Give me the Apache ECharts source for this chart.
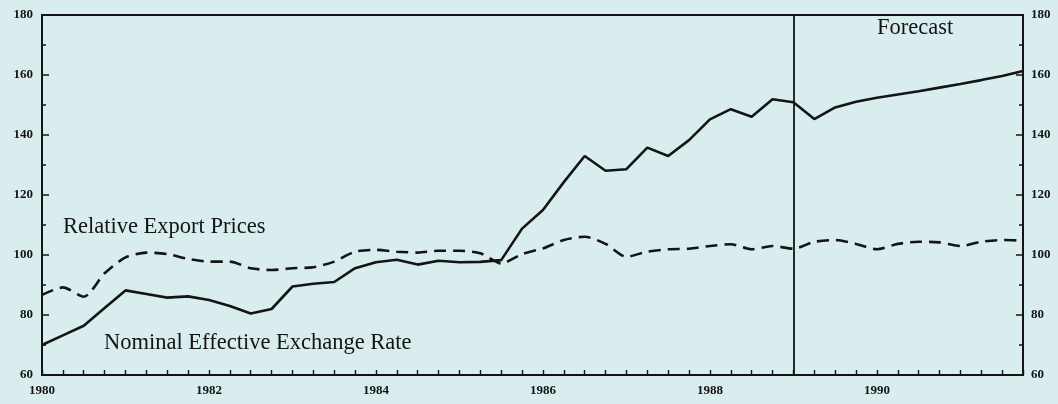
<!DOCTYPE html>
<html>
<head>
<meta charset="utf-8">
<script src="https://cdn.jsdelivr.net/npm/echarts@6/dist/echarts.min.js"></script>
<style>
html,body{margin:0;padding:0;background:#d9ecee;}
#chart{width:1058px;height:404px;}
</style>
</head>
<body>
<div id="chart"></div>
<script>
// Quarterly observations, 1980Q1 .. 1991Q4 (48 quarters)
var startYear = 1980;
var quarters = [];
for (var i = 0; i < 48; i++) { quarters.push(startYear + i * 0.25); }

var nominalEffectiveExchangeRate = [
  70.0, 73.2, 76.4, 82.3, 88.2, 87.0, 85.8, 86.2,
  85.0, 83.0, 80.5, 82.0, 89.5, 90.4, 91.0, 95.6,
  97.6, 98.4, 96.8, 98.1, 97.6, 97.7, 98.3, 108.8,
  115.0, 124.3, 133.0, 128.1, 128.6, 135.8, 133.0, 138.3,
  145.2, 148.6, 146.1, 151.9, 150.9, 145.3, 149.2, 151.1,
  152.4, 153.5, 154.6, 155.8, 157.0, 158.3, 159.7, 161.3
];
var relativeExportPrices = [
  86.7, 89.2, 86.1, 93.9, 99.2, 100.8, 100.3, 98.7,
  97.8, 97.8, 95.6, 95.0, 95.6, 95.9, 97.8, 101.1,
  101.7, 101.1, 100.8, 101.4, 101.4, 100.6, 97.2, 100.3,
  102.2, 105.0, 106.1, 103.7, 99.4, 101.1, 101.9, 102.1,
  103.0, 103.6, 101.9, 103.0, 102.1, 104.4, 105.0, 103.7,
  101.9, 103.7, 104.4, 104.2, 103.0, 104.4, 105.0, 104.8
];
var forecastStart = 1989;
var seriesNames = ['Relative Export Prices', 'Nominal Effective Exchange Rate'];
var forecastLabel = 'Forecast';

function pairs(vals) { return vals.map(function (v, i) { return [quarters[i], v]; }); }
function isEvenYear(v) { return Math.abs(v / 2 - Math.round(v / 2)) < 1e-6; }

var ink = '#141414';
var labelFont = { fontFamily: 'Liberation Serif', fontSize: 13, fontWeight: 'bold', color: ink };

var chart = echarts.init(document.getElementById('chart'));
chart.setOption({
  backgroundColor: '#d9ecee',
  animation: false,
  grid: { left: 42, right: 35, top: 15, bottom: 29, show: true, borderColor: ink, borderWidth: 2, backgroundColor: 'transparent' },
  xAxis: [
    {
      type: 'value', position: 'bottom', min: 1980, max: 1991.75, interval: 0.25,
      axisLine: { show: true, onZero: false, lineStyle: { color: ink, width: 2 } },
      axisTick: { show: true, inside: true, length: 5, lineStyle: { color: ink, width: 1.4 } },
      axisLabel: Object.assign({ margin: 9, formatter: function (v) { return isEvenYear(v) ? String(Math.round(v)) : ''; } }, labelFont),
      splitLine: { show: false }
    }
  ],
  yAxis: [
    {
      type: 'value', min: 60, max: 180, interval: 20, position: 'left',
      axisLine: { show: true, lineStyle: { color: ink, width: 2 } },
      axisTick: { show: true, inside: true, length: 7, lineStyle: { color: ink, width: 1.5 } },
      minorTick: { show: true, splitNumber: 2, length: 4, lineStyle: { color: ink, width: 1.5 } },
      axisLabel: Object.assign({ margin: 9 }, labelFont),
      splitLine: { show: false }
    },
    {
      type: 'value', min: 60, max: 180, interval: 20, position: 'right',
      axisLine: { show: true, lineStyle: { color: ink, width: 2 } },
      axisTick: { show: true, inside: true, length: 7, lineStyle: { color: ink, width: 1.5 } },
      minorTick: { show: true, splitNumber: 2, length: 4, lineStyle: { color: ink, width: 1.5 } },
      axisLabel: Object.assign({ margin: 8 }, labelFont),
      splitLine: { show: false }
    }
  ],
  series: [
    {
      name: seriesNames[0], type: 'line', data: pairs(relativeExportPrices), symbol: 'none', smooth: 0.25,
      lineStyle: { color: ink, width: 2.6, type: [12, 7] }
    },
    {
      name: seriesNames[1], type: 'line', data: pairs(nominalEffectiveExchangeRate), symbol: 'none',
      lineStyle: { color: ink, width: 2.6 },
      markLine: {
        silent: true, symbol: 'none', label: { show: false },
        lineStyle: { color: ink, width: 1.8, type: 'solid' },
        data: [{ xAxis: forecastStart }]
      }
    }
  ],
  graphic: [
    { type: 'text', left: 877, top: 17, style: { text: forecastLabel, font: '22.5px "Liberation Serif"', fill: ink } },
    { type: 'text', left: 63, top: 216, style: { text: seriesNames[0], font: '22.5px "Liberation Serif"', fill: ink } },
    { type: 'text', left: 104, top: 332, style: { text: seriesNames[1], font: '22.5px "Liberation Serif"', fill: ink } }
  ]
});
</script>
</body>
</html>
